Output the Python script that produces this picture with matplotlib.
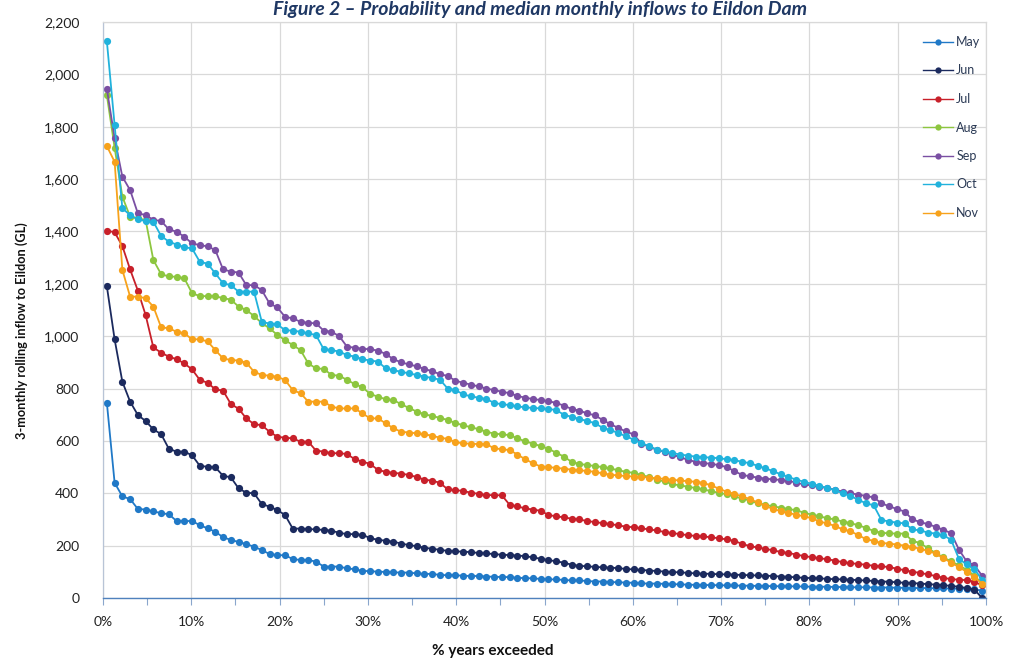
import numpy as np
import matplotlib
matplotlib.use("Agg")
import matplotlib.pyplot as plt
from matplotlib.ticker import MultipleLocator, FuncFormatter

plt.rcParams["font.family"] = ["Lato", "DejaVu Sans"]

# 3-monthly rolling inflow to Eildon (GL), sorted from highest to lowest year
may = [745, 440, 388, 378, 340, 338, 331, 324, 320, 294, 294, 294, 278, 266, 253,
       232, 222, 214, 206, 196, 183, 168, 164, 163, 149, 145, 145, 139, 120, 120,
       120, 113, 110, 103, 103, 100, 100,
       98, 97, 97, 94, 92, 92, 88, 87, 87, 85, 84, 84, 82, 81, 80, 80, 77, 76, 75,
       73, 71, 71, 69, 67, 67, 65, 63, 63, 61, 60, 59, 58, 56, 55, 55, 54, 53, 52,
       51, 50,
       50, 49, 49, 48, 48, 47, 47, 46, 46, 45, 45, 45, 44, 44, 43, 43, 43, 42, 42,
       41, 41, 41, 40, 40, 40, 39, 39, 38, 38, 38, 37, 37, 36, 36, 35, 33, 28]
jun = [1190, 988, 826, 750, 699, 676, 644, 626, 570, 559, 559, 545, 505, 501, 499,
       467, 461, 419, 402, 400, 359, 349, 336, 317, 265, 265, 263, 262, 260, 257,
       249, 244, 244, 241, 229, 222, 219,
       215, 208, 202, 198, 192, 188, 184, 180, 178, 177, 175, 172, 170, 168, 165,
       164, 162, 160, 155, 150, 145, 140, 135, 127, 123, 121, 119, 117, 116, 114,
       111, 109, 107, 105, 103, 101, 99, 98, 96, 94,
       93, 92, 91, 90, 89, 88, 87, 86, 85, 84, 82, 81, 79, 77, 76, 75, 73, 72, 71,
       70, 68, 67, 65, 63, 62, 60, 58, 57, 55, 53, 51, 49, 46, 43, 38, 32, 0]
jul = [1403, 1397, 1344, 1255, 1174, 1081, 957, 937, 922, 912, 896, 873, 833, 822,
       797, 792, 741, 723, 686, 664, 660, 635, 616, 612, 610, 597, 597, 563, 559,
       553, 553, 550, 530, 521, 512, 489, 482,
       478, 475, 470, 462, 452, 448, 440, 415, 412, 409, 402, 398, 393, 393, 392,
       356, 350, 342, 338, 333, 317, 312, 308, 303, 300, 294, 290, 286, 283, 277,
       273, 270, 266, 262, 258, 252, 248, 244, 240, 237,
       235, 232, 228, 224, 218, 207, 198, 193, 188, 182, 176, 172, 166, 160, 156,
       152, 148, 143, 137, 133, 130, 127, 123, 121, 118, 112, 106, 100, 96, 90, 84,
       77, 72, 70, 68, 62, 48]
aug = [1920, 1720, 1533, 1456, 1450, 1444, 1291, 1237, 1228, 1227, 1221, 1164,
       1153, 1153, 1153, 1145, 1140, 1113, 1100, 1077, 1050, 1030, 1005, 985, 966,
       947, 896, 877, 875, 852, 849, 833, 817, 805, 779, 769, 759,
       756, 740, 726, 712, 702, 695, 688, 680, 668, 660, 652, 645, 635, 628, 625,
       622, 610, 598, 590, 580, 570, 555, 540, 520, 512, 508, 504, 500, 495, 488,
       482, 478, 470, 462, 452, 445, 435, 430, 425, 420,
       415, 408, 402, 396, 388, 380, 372, 362, 356, 350, 345, 340, 335, 326, 318,
       312, 305, 300, 292, 286, 278, 268, 256, 249, 247, 246, 246, 218, 210, 190,
       172, 155, 140, 125, 108, 85, 55]
sep = [1944, 1756, 1609, 1558, 1469, 1463, 1444, 1440, 1408, 1399, 1380, 1354,
       1348, 1343, 1329, 1255, 1247, 1243, 1195, 1195, 1176, 1125, 1110, 1074,
       1068, 1055, 1051, 1049, 1021, 1017, 1000, 960, 956, 952, 950, 945, 932,
       912, 900, 892, 885, 875, 866, 855, 848, 830, 822, 815, 808, 800, 794, 788,
       782, 772, 765, 760, 756, 752, 745, 735, 722, 716, 705, 698, 680, 664, 650,
       636, 625, 590, 578, 566, 558, 548, 538, 528, 520,
       516, 512, 508, 500, 485, 470, 465, 460, 456, 453, 451, 448, 440, 434, 430,
       425, 420, 414, 406, 400, 395, 390, 384, 362, 350, 340, 330, 300, 290, 282,
       272, 260, 248, 185, 140, 125, 85]
oct_ = [2126, 1806, 1488, 1463, 1446, 1440, 1437, 1383, 1361, 1350, 1340, 1335,
        1284, 1277, 1240, 1202, 1195, 1170, 1170, 1170, 1055, 1048, 1045, 1023,
        1021, 1017, 1011, 1004, 950, 947, 941, 928, 922, 912, 907, 903, 877,
        870, 864, 858, 852, 846, 840, 834, 800, 794, 778, 770, 765, 760, 745, 740,
        737, 732, 728, 726, 724, 722, 718, 700, 692, 684, 676, 668, 650, 642, 630,
        618, 605, 592, 580, 567, 560, 554, 548, 544, 540,
        538, 536, 534, 530, 527, 520, 515, 505, 495, 485, 472, 462, 452, 444, 436,
        428, 420, 412, 400, 390, 375, 362, 354, 298, 292, 288, 285, 262, 258, 250,
        246, 240, 222, 150, 128, 110, 70]
nov = [1726, 1666, 1253, 1151, 1151, 1145, 1113, 1034, 1030, 1017, 1011, 988, 988,
       980, 947, 915, 909, 907, 899, 864, 852, 849, 845, 833, 794, 782, 750, 750,
       750, 731, 724, 724, 724, 705, 686, 686, 667,
       648, 635, 632, 629, 625, 620, 612, 608, 595, 591, 589, 588, 587, 572, 568,
       565, 548, 530, 515, 502, 500, 497, 494, 490, 488, 485, 482, 476, 471, 468,
       466, 464, 463, 460, 457, 455, 451, 449, 446, 444,
       440, 430, 418, 406, 398, 388, 378, 365, 352, 340, 332, 325, 318, 312, 305,
       292, 285, 275, 262, 255, 240, 225, 218, 210, 208, 204, 200, 195, 188, 180,
       170, 152, 135, 118, 100, 80, 55]

months = ["May", "Jun", "Jul", "Aug", "Sep", "Oct", "Nov"]
series = [may, jun, jul, aug, sep, oct_, nov]
colors = ["#2079c7", "#1b2a5e", "#c8202a", "#8dc63f", "#7a4fa3", "#21b2dc", "#f7a21b"]

n_years = len(may)
for s in series:
    assert len(s) == n_years
# plotting position (% of years in which the flow is exceeded)
exceedance = (np.arange(n_years) + 0.5) / n_years * 100

fig = plt.figure(figsize=(10.13, 6.66), dpi=100)
ax = fig.add_axes([103 / 1013, 68 / 666, 883 / 1013, 576 / 666])

for name, vals, col in zip(months, series, colors):
    ax.plot(exceedance, vals, color=col, lw=1.3, marker="o", markersize=5.2,
            markeredgewidth=0, label=name)

ax.set_xlim(0, 100)
ax.set_ylim(0, 2200)
ax.xaxis.set_major_locator(MultipleLocator(10))
ax.xaxis.set_minor_locator(MultipleLocator(5))
ax.yaxis.set_major_locator(MultipleLocator(200))
ax.xaxis.set_major_formatter(FuncFormatter(lambda v, p: f"{v:.0f}%"))
ax.yaxis.set_major_formatter(FuncFormatter(lambda v, p: f"{v:,.0f}"))

ax.grid(True, which="major", color="#d9d9d9", lw=0.9)
ax.set_axisbelow(True)
for side in ["top", "right", "left"]:
    ax.spines[side].set_color("#d9d9d9")
    ax.spines[side].set_linewidth(0.9)
ax.spines["left"].set_color("#b8c4d6")
ax.spines["bottom"].set_color("#4f81bd")
ax.spines["bottom"].set_linewidth(1.0)

ax.tick_params(axis="x", which="both", direction="out", length=5, width=0.8,
               color="#8aa6cc", labelsize=10, labelcolor="#222222", pad=8)
ax.tick_params(axis="y", length=0, labelsize=10, labelcolor="#222222", pad=17)

ax.set_ylabel("3-monthly rolling inflow to Eildon (GL)", fontsize=9.2,
              fontweight="bold", color="#111111")
ax.yaxis.set_label_coords(-0.085, 0.4635)
fig.text(493 / 1013, 1 - 651 / 666, "% years exceeded", ha="center", va="center",
         fontsize=11, fontweight="bold", color="#111111")

fig.text(540 / 1013, 1 - 15 / 666,
         "Figure 2 \u2013 Probability and median monthly inflows to Eildon Dam",
         ha="center", va="baseline", fontsize=14, fontweight="bold",
         fontstyle="italic", color="#1f3864")

leg = ax.legend(loc="upper left", bbox_to_anchor=(918 / 1013, 1 - 31 / 666),
                bbox_transform=fig.transFigure, frameon=False, fontsize=9,
                handlelength=2.4, handletextpad=0.25, labelspacing=1.32,
                borderaxespad=0)
for t in leg.get_texts():
    t.set_color("#2b3a55")
for h in leg.get_lines():
    h.set_markersize(4.5)
    h.set_linewidth(1.0)

fig.savefig("out.png", dpi=100)
